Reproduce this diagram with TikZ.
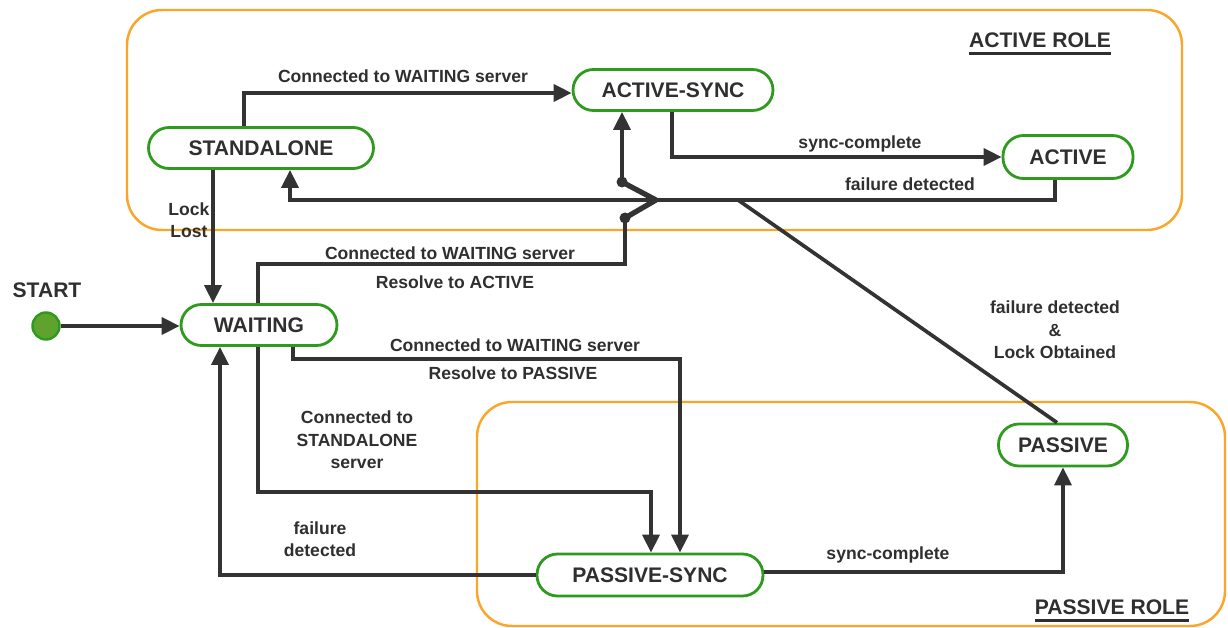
\documentclass[tikz,border=0pt]{standalone}
\usepackage{fontspec}
\setmainfont{Liberation Sans}
\usetikzlibrary{arrows.meta,calc}
\definecolor{ln}{HTML}{333333}
\definecolor{grn}{HTML}{2E9A1E}
\definecolor{sgrn}{HTML}{5FA22E}
\definecolor{org}{HTML}{FBA52A}
\definecolor{txt}{HTML}{2F2F2F}
\begin{document}
\begin{tikzpicture}[x=0.02cm,y=-0.02cm,
  state/.style={draw=grn, line width=1.6pt, fill=white, rectangle, rounded corners=0.41cm,
    minimum height=0.82cm, inner sep=0pt, font=\bfseries\fontsize{12}{14}\selectfont, text=txt},
  role/.style={draw=org, line width=1.4pt, rounded corners=0.7cm},
  rolelab/.style={inner sep=0pt, font=\bfseries\fontsize{12}{14}\selectfont, text=txt},
  lab/.style={inner sep=1pt, align=center, font=\bfseries\fontsize{10}{12.8}\selectfont, text=txt},
  wire/.style={draw=ln, line width=2.1pt},
  conn/.style={wire, -{Triangle[length=0.36cm,width=0.34cm]}},
]
\useasboundingbox (0,0) rectangle (1228,628);

% role boxes
\draw[role] (127,10) rectangle (1182,230);
\draw[role] (477,402) rectangle (1225,626);
\node[rolelab] (activerole) at (1040,40) {ACTIVE ROLE};
\draw[txt, line width=1.9pt] ($(activerole.base west)+(0,6)$) -- ($(activerole.base east)+(0,6)$);
\node[rolelab] (passiverole) at (1112,607) {PASSIVE ROLE};
\draw[txt, line width=1.9pt] ($(passiverole.base west)+(0,6)$) -- ($(passiverole.base east)+(0,6)$);

% states
\node[state, minimum width=4.5cm] (standalone) at (261,148) {STANDALONE};
\node[state, minimum width=4cm] (activesync) at (673,90) {ACTIVE-SYNC};
\node[state, minimum width=2.6cm, minimum height=0.86cm] (active) at (1068,157) {ACTIVE};
\node[state, minimum width=3.12cm] (waiting) at (259,325) {WAITING};
\node[state, minimum width=2.58cm, minimum height=0.84cm] (passive) at (1063,445) {PASSIVE};
\node[state, minimum width=4.52cm, minimum height=0.84cm] (passivesync) at (650,575) {PASSIVE-SYNC};
\node[circle, draw=grn, line width=1.4pt, fill=sgrn, minimum size=0.54cm, inner sep=0pt] (start) at (46,326) {};
\node[rolelab] (startlab) at (47,290) {START};

% helper coordinates
\coordinate (bend1) at (1055,200);
\coordinate (merge) at (738,200);
\coordinate (jlow) at (625,218);
\coordinate (jhigh) at (622,182);
\coordinate (jtip) at (656,200);

% connectors
\draw[conn] ($(standalone.north)+(-17,0)$) |- ($(activesync.west)+(0,3)$);
\draw[conn] ($(activesync.south)+(-1,0)$) |- (active.west);
\draw[conn] (active.south -| bend1) -- (bend1) -| ($(standalone.south)+(29,0)$);
\draw[conn] ($(standalone.south)+(-48,0)$) -- ($(waiting.north)+(-46,0)$);
\draw[conn] (start) -- (start -| waiting.west);

\draw[wire] ($(waiting.north)+(-1,0)$) -- ++(0,-39) -| (jlow);
\draw[wire, line width=3pt, line join=round, line cap=round] (jlow) -- (jtip) -- (jhigh);
\draw[conn] (jhigh) -- (jhigh |- activesync.south);
\fill[ln] (jlow) circle (5.5);
\fill[ln] (jhigh) circle (5.5);

\draw[conn] ($(waiting.south)+(34,0)$) -- ++(0,12) -| ($(passivesync.north)+(30,0)$);
\draw[conn] ($(waiting.south)+(-1,0)$) -- ++(0,145) -| ($(passivesync.north)+(1,0)$);
\draw[conn] (passivesync.west) -| ($(waiting.south)+(-39,0)$);
\draw[conn] ($(passivesync.east)+(0,-3)$) -| (passive.south);
\draw[wire] ($(passive.north)+(-6,0)$) -- (merge);

% labels
\node[lab] (l1) at (403,76) {Connected to WAITING server};
\node[lab] (l2) at (860,144) {sync-complete};
\node[lab] (l3) at (910,184) {failure detected};
\node[lab] (l4) at (189,220) {Lock\\Lost};
\node[lab] (l5) at (450,253) {Connected to WAITING server};
\node[lab] (l6) at (455,282) {Resolve to ACTIVE};
\node[lab] (l7) at (515,345) {Connected to WAITING server};
\node[lab] (l8) at (513,373) {Resolve to PASSIVE};
\node[lab] (l9) at (357,440) {Connected to\\STANDALONE\\server};
\node[lab] (l10) at (320,539) {failure\\detected};
\node[lab] (l11) at (888,555) {sync-complete};
\node[lab] (l12) at (1055,330) {failure detected\\\&\\Lock Obtained};
\end{tikzpicture}
\end{document}
